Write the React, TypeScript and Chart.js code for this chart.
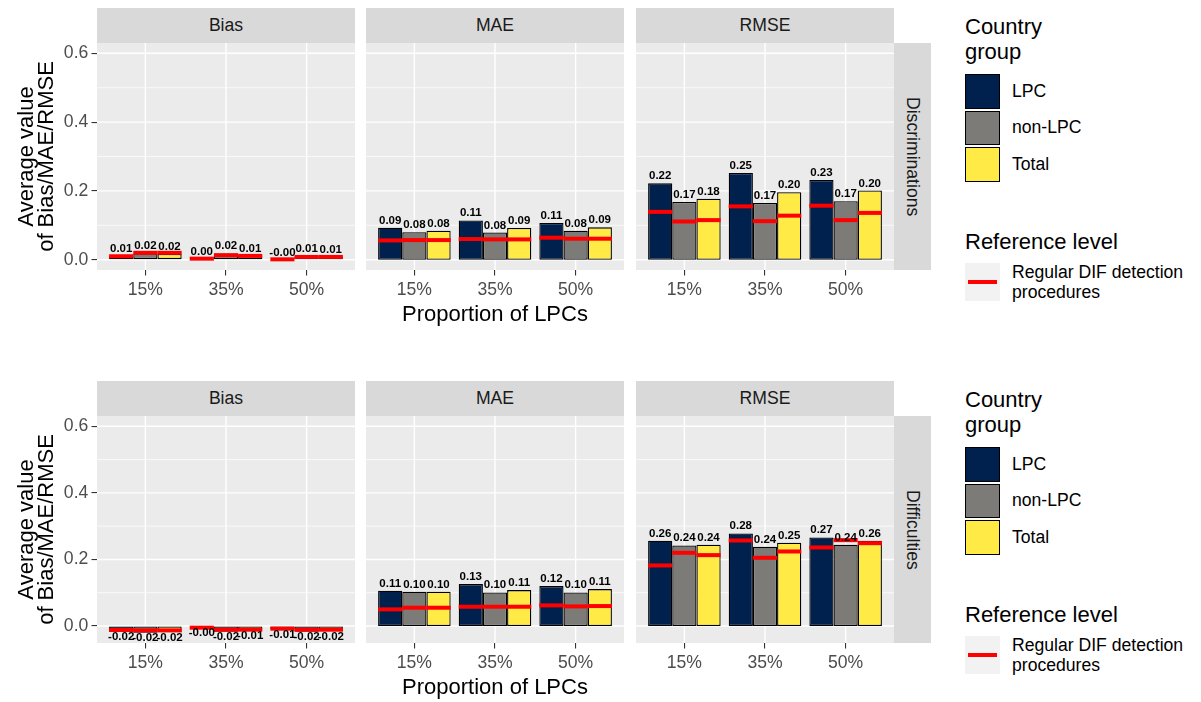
import React, { useEffect, useRef } from 'react';
import { Chart, registerables } from 'chart.js';

Chart.register(...registerables);

const FONT = '"Liberation Sans", Arial, Helvetica, sans-serif';

const CATEGORIES = ['15%', '35%', '50%'];
const GROUPS = ['LPC', 'non-LPC', 'Total'];
const GROUP_COLORS = ['#00204D', '#7C7B78', '#FFEA46'];
const METRICS = ['Bias', 'MAE', 'RMSE'];
const ROW_LABELS = ['Discriminations', 'Difficulties'];
const REF_TITLE = 'Reference level';
const REF_LABEL = ['Regular DIF detection', 'procedures'];
const X_TITLE = 'Proportion of LPCs';
const Y_TITLE = ['Average value', 'of Bias/MAE/RMSE'];
const Y_TICKS = [0, 0.2, 0.4, 0.6];
const Y_MINOR = [0.1, 0.3, 0.5];
const Y_RANGE_DISC = [-0.03, 0.63];
const Y_RANGE_DIFF = [-0.051, 0.631];

// each array: [LPC, non-LPC, Total] x [15%, 35%, 50%]
const DISC_BIAS = [[0.010, 0.003, -0.002], [0.018, 0.018, 0.010], [0.017, 0.012, 0.007]];
const DISC_BIAS_REF = [[0.010, 0.003, 0.001], [0.020, 0.013, 0.008], [0.020, 0.011, 0.008]];
const DISC_MAE = [[0.093, 0.114, 0.107], [0.080, 0.079, 0.084], [0.084, 0.092, 0.094]];
const DISC_MAE_REF = [[0.056, 0.060, 0.064], [0.057, 0.059, 0.061], [0.057, 0.059, 0.061]];
const DISC_RMSE = [[0.222, 0.252, 0.232], [0.168, 0.165, 0.170], [0.177, 0.196, 0.201]];
const DISC_RMSE_REF = [[0.139, 0.155, 0.157], [0.111, 0.112, 0.115], [0.115, 0.128, 0.136]];

const DIFF_BIAS = [[-0.017, -0.004, -0.009], [-0.020, -0.017, -0.017], [-0.019, -0.014, -0.016]];
const DIFF_BIAS_REF = [[-0.012, -0.005, -0.008], [-0.013, -0.011, -0.011], [-0.013, -0.011, -0.011]];
const DIFF_MAE = [[0.106, 0.126, 0.120], [0.103, 0.101, 0.101], [0.103, 0.108, 0.111]];
const DIFF_MAE_REF = [[0.050, 0.058, 0.062], [0.055, 0.058, 0.059], [0.055, 0.058, 0.060]];
const DIFF_RMSE = [[0.256, 0.278, 0.266], [0.242, 0.238, 0.244], [0.244, 0.250, 0.256]];
const DIFF_RMSE_REF = [[0.182, 0.257, 0.236], [0.220, 0.205, 0.258], [0.213, 0.224, 0.249]];

const ROWS = [
  { label: ROW_LABELS[0], range: Y_RANGE_DISC, values: [DISC_BIAS, DISC_MAE, DISC_RMSE], refs: [DISC_BIAS_REF, DISC_MAE_REF, DISC_RMSE_REF] },
  { label: ROW_LABELS[1], range: Y_RANGE_DIFF, values: [DIFF_BIAS, DIFF_MAE, DIFF_RMSE], refs: [DIFF_BIAS_REF, DIFF_MAE_REF, DIFF_RMSE_REF] },
];

// layout
const PANEL_LEFTS = [97, 366, 636];
const PANEL_W = 258;
const PANEL_H = 227;
const ROW_TOPS = [43, 416];
const STRIP_H = 35;
const RIGHT_STRIP_X = 894;
const RIGHT_STRIP_W = 37;
const Y_AXIS_W = 97;
const X_AXIS_H = 45;
const X_AXIS_H_TITLE = 58;
const LEGEND_X = 965;
const LEGEND_OFFSETS = [0, 373];

const panelPlugin = {
  id: 'panelBg',
  beforeDraw(chart: any) {
    const { ctx, chartArea: a, scales } = chart;
    const x = scales.x;
    const y = scales.y;
    ctx.save();
    ctx.fillStyle = '#EBEBEB';
    ctx.fillRect(a.left, a.top, a.right - a.left, a.bottom - a.top);
    ctx.strokeStyle = '#FFFFFF';
    const hline = (v: number, w: number) => {
      const py = y.getPixelForValue(v);
      ctx.lineWidth = w;
      ctx.beginPath();
      ctx.moveTo(a.left, py);
      ctx.lineTo(a.right, py);
      ctx.stroke();
    };
    Y_MINOR.forEach((v) => hline(v, 0.7));
    Y_TICKS.forEach((v) => hline(v, 1.4));
    CATEGORIES.forEach((_, i) => {
      const px = x.getPixelForValue(i + 1);
      ctx.lineWidth = 1.4;
      ctx.beginPath();
      ctx.moveTo(px, a.top);
      ctx.lineTo(px, a.bottom);
      ctx.stroke();
    });
    ctx.restore();
  },
};

const labelPlugin = {
  id: 'barLabels',
  afterDatasetsDraw(chart: any) {
    const ctx = chart.ctx;
    ctx.save();
    ctx.font = `bold 11.5px ${FONT}`;
    ctx.fillStyle = '#000000';
    ctx.textAlign = 'center';
    ctx.textBaseline = 'alphabetic';
    chart.data.datasets.forEach((ds: any, di: number) => {
      if (ds.type !== 'bar') return;
      const meta = chart.getDatasetMeta(di);
      meta.data.forEach((el: any, k: number) => {
        const v = ds.data[k].y;
        const p = el.getProps(['x', 'y', 'base'], true);
        const txt = v.toFixed(2);
        if (v < -0.003) ctx.fillText(txt, p.x, Math.max(p.y, p.base) + 8.5);
        else ctx.fillText(txt, p.x, Math.min(p.y, p.base) - 4);
      });
    });
    ctx.restore();
  },
};

function Panel(props: any) {
  const { values, refs, range, showY, showXTitle, left, top } = props;
  const ref = useRef<HTMLCanvasElement | null>(null);
  const width = PANEL_W + (showY ? Y_AXIS_W : 0);
  const xH = showXTitle ? X_AXIS_H_TITLE : X_AXIS_H;
  const height = PANEL_H + xH;

  useEffect(() => {
    const halfBar = (c: any) => {
      const s = c.chart.scales.x;
      return Math.abs(s.getPixelForValue(1.15) - s.getPixelForValue(1));
    };
    const refPoints: any[] = [];
    refs.forEach((arr: number[], j: number) => {
      arr.forEach((v: number, i: number) => refPoints.push({ x: i + 1 + (j - 1) * 0.3, y: v }));
    });
    const datasets: any[] = [
      {
        type: 'scatter',
        label: REF_TITLE,
        data: refPoints,
        order: 0,
        pointStyle: 'line',
        pointRadius: halfBar,
        pointHoverRadius: halfBar,
        pointBorderWidth: 4,
        pointHoverBorderWidth: 4,
        borderWidth: 4,
        borderColor: '#FF0000',
        backgroundColor: '#FF0000',
        pointBorderColor: '#FF0000',
        pointBackgroundColor: '#FF0000',
      },
      ...GROUPS.map((g, j) => ({
        type: 'bar',
        label: g,
        data: CATEGORIES.map((_, i) => ({ x: i + 1, y: values[j][i] })),
        backgroundColor: GROUP_COLORS[j],
        borderColor: '#000000',
        borderWidth: 1.3,
        borderSkipped: false,
        categoryPercentage: 0.9,
        barPercentage: 1,
        order: 1,
      })),
    ];
    const chart = new Chart(ref.current as HTMLCanvasElement, {
      type: 'bar',
      data: { datasets },
      options: {
        animation: false,
        responsive: false,
        devicePixelRatio: 1,
        events: [],
        layout: { padding: 0 },
        plugins: { legend: { display: false }, tooltip: { enabled: false } },
        scales: {
          x: {
            type: 'linear',
            min: 0.4,
            max: 3.6,
            offset: false,
            bounds: 'data',
            afterBuildTicks: (s: any) => {
              s.ticks = CATEGORIES.map((_, i) => ({ value: i + 1 }));
            },
            afterFit: (s: any) => {
              s.height = xH;
              s.paddingLeft = 0;
              s.paddingRight = 0;
            },
            ticks: {
              callback: (v: any) => CATEGORIES[Math.round(Number(v)) - 1],
              font: { family: FONT, size: 17.6 },
              color: '#4D4D4D',
              padding: 3.6,
              maxRotation: 0,
              autoSkip: false,
            },
            grid: { display: true, drawOnChartArea: false, drawTicks: true, tickLength: 5.5, color: '#333333', lineWidth: 1.1, offset: false },
            border: { display: false },
            title: {
              display: showXTitle,
              text: X_TITLE,
              color: '#000000',
              font: { family: FONT, size: 22 },
              padding: { top: 0, bottom: 0 },
            },
          },
          y: {
            type: 'linear',
            display: showY,
            min: range[0],
            max: range[1],
            bounds: 'data',
            afterBuildTicks: (s: any) => {
              s.ticks = Y_TICKS.map((v) => ({ value: v }));
            },
            afterFit: (s: any) => {
              if (showY) s.width = Y_AXIS_W;
              s.paddingTop = 0;
              s.paddingBottom = 0;
            },
            ticks: {
              callback: (v: any) => Number(v).toFixed(1),
              font: { family: FONT, size: 17.6 },
              color: '#4D4D4D',
              padding: 3.2,
            },
            grid: { display: true, drawOnChartArea: false, drawTicks: true, tickLength: 5.5, color: '#333333', lineWidth: 1.1 },
            border: { display: false },
            title: {
              display: showY,
              text: Y_TITLE,
              color: '#000000',
              font: { family: FONT, size: 22, lineHeight: 0.9 },
              padding: { top: 17, bottom: 0 },
            },
          },
        },
      } as any,
      plugins: [panelPlugin, labelPlugin],
    } as any);
    return () => chart.destroy();
  }, []);

  return (
    <canvas
      ref={ref}
      width={width}
      height={height}
      style={{ position: 'absolute', left: left - (showY ? Y_AXIS_W : 0), top, width, height }}
    />
  );
}

function Legend({ offset }: { offset: number }) {
  const text: any = { position: 'absolute', fontFamily: FONT, color: '#000000', whiteSpace: 'nowrap' };
  return (
    <>
      <div style={{ ...text, left: LEGEND_X, top: 14 + offset, fontSize: 22, lineHeight: '25px' }}>
        Country
        <br />
        group
      </div>
      {GROUPS.map((g, j) => (
        <React.Fragment key={g}>
          <div
            style={{
              position: 'absolute',
              left: LEGEND_X,
              top: 74 + j * 36.6 + offset,
              width: 35,
              height: 34.5,
              boxSizing: 'border-box',
              border: '1.3px solid #000000',
              background: GROUP_COLORS[j],
            }}
          />
          <div style={{ ...text, left: 1012, top: 74 + j * 36.6 + offset, height: 34.5, display: 'flex', alignItems: 'center', fontSize: 17.6 }}>{g}</div>
        </React.Fragment>
      ))}
      <div style={{ ...text, left: LEGEND_X, top: 231.5 + offset, fontSize: 22, lineHeight: '19.8px' }}>{REF_TITLE}</div>
      <div style={{ position: 'absolute', left: LEGEND_X, top: 263 + offset, width: 35, height: 38, background: '#F2F2F2' }}>
        <div style={{ position: 'absolute', left: 2.7, top: 17, width: 29, height: 4, background: '#FF0000' }} />
      </div>
      <div style={{ ...text, left: 1012, top: 263 + offset, fontSize: 17.6, lineHeight: '19.7px' }}>
        {REF_LABEL[0]}
        <br />
        {REF_LABEL[1]}
      </div>
    </>
  );
}

export default function App() {
  return (
    <div style={{ position: 'absolute', left: 0, top: 0, width: 1201, height: 702, overflow: 'hidden', background: '#FFFFFF', fontFamily: FONT }}>
      {ROWS.map((row, r) => (
        <React.Fragment key={row.label}>
          {METRICS.map((m, k) => (
            <React.Fragment key={m}>
              <div
                style={{
                  position: 'absolute',
                  left: PANEL_LEFTS[k],
                  top: ROW_TOPS[r] - STRIP_H,
                  width: PANEL_W,
                  height: STRIP_H,
                  background: '#D9D9D9',
                  color: '#1A1A1A',
                  fontSize: 17.6,
                  display: 'flex',
                  alignItems: 'center',
                  justifyContent: 'center',
                }}
              >
                {m}
              </div>
              <Panel
                values={row.values[k]}
                refs={row.refs[k]}
                range={row.range}
                showY={k === 0}
                showXTitle={k === 1}
                left={PANEL_LEFTS[k]}
                top={ROW_TOPS[r]}
              />
            </React.Fragment>
          ))}
          <div
            style={{
              position: 'absolute',
              left: RIGHT_STRIP_X,
              top: ROW_TOPS[r],
              width: RIGHT_STRIP_W,
              height: PANEL_H,
              background: '#D9D9D9',
              color: '#1A1A1A',
              fontSize: 17.6,
              display: 'flex',
              alignItems: 'center',
              justifyContent: 'center',
            }}
          >
            <span style={{ writingMode: 'vertical-rl' as any }}>{row.label}</span>
          </div>
          <Legend offset={LEGEND_OFFSETS[r]} />
        </React.Fragment>
      ))}
    </div>
  );
}
